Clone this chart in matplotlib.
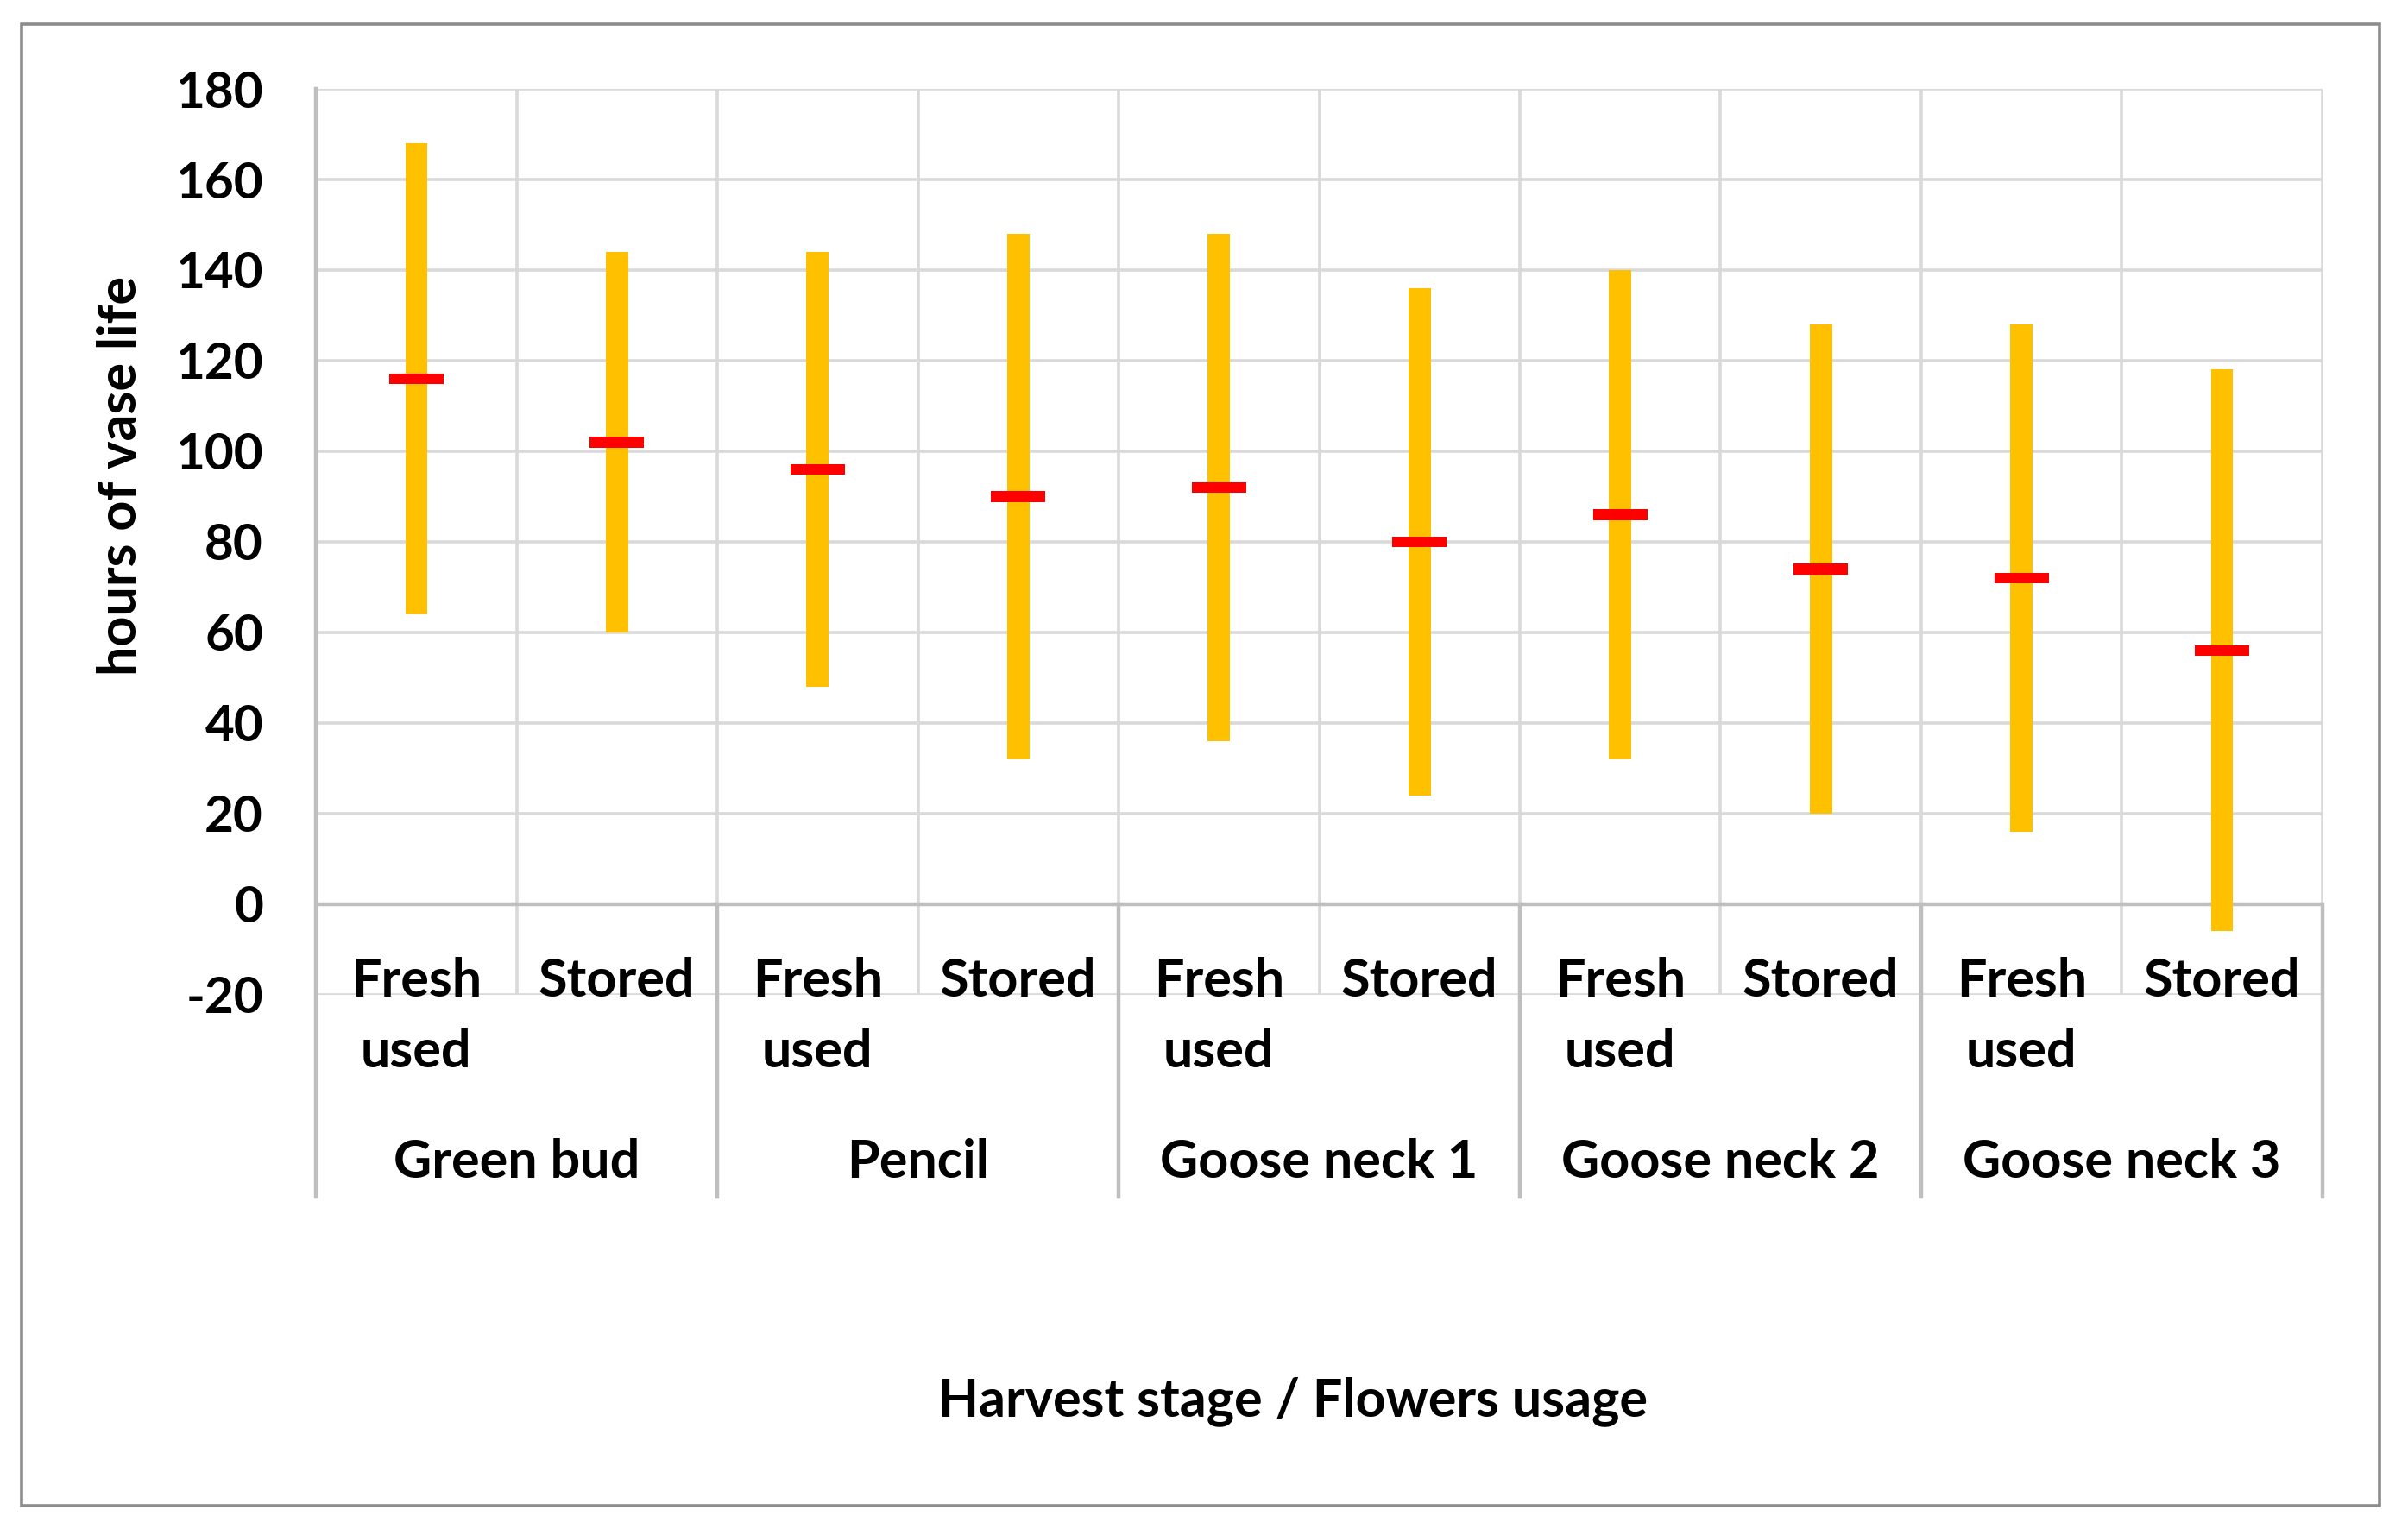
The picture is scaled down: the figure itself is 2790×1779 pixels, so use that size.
import matplotlib
matplotlib.use('Agg')
import matplotlib.pyplot as plt
from matplotlib.patches import Rectangle
import matplotlib.transforms as mtransforms

groups = ["Green bud", "Pencil", "Goose neck 1", "Goose neck 2", "Goose neck 3"]
usages = ["Fresh used", "Stored"]
high = [168, 144, 144, 148, 148, 136, 140, 128, 128, 118]
low = [64, 60, 48, 32, 36, 24, 32, 20, 16, -6]
mean = [116, 102, 96, 90, 92, 80, 86, 74, 72, 56]
yticks = list(range(-20, 181, 20))

plt.rcParams['font.family'] = ['Lato', 'DejaVu Sans']
plt.rcParams['font.weight'] = 'bold'
plt.rcParams['axes.unicode_minus'] = False

fig = plt.figure(figsize=(13.95, 8.895), dpi=200)
ax = fig.add_axes([0.1312, 0.3519, 0.8333, 0.5902])

n = len(high)
x = [i + 0.5 for i in range(n)]
ax.set_xlim(0, n)
ax.set_ylim(-20, 180)

grid_c = '#D9D9D9'
axis_c = '#BFBFBF'

# horizontal gridlines
for t in yticks:
    ax.axhline(t, color=grid_c, lw=1.3, zorder=1)
# vertical gridlines
for i in range(1, n + 1):
    ax.axvline(i, color=grid_c, lw=1.3, zorder=1)
ax.axhline(0, color=axis_c, lw=1.6, zorder=2)

# high-low bars
ax.bar(x, [h - l for h, l in zip(high, low)], bottom=low, width=0.11,
       color='#FFC000', zorder=3)
# mean dashes
ax.bar(x, 2.3, bottom=[m - 1.15 for m in mean], width=0.27,
       color='#FF0000', zorder=4)

for s in ax.spines.values():
    s.set_visible(False)

ax.set_yticks(yticks)
ax.set_xticks([])
ax.tick_params(axis='y', length=0, pad=22, labelsize=21)

trans = mtransforms.blended_transform_factory(ax.transData, ax.transAxes)
sep_bottom = -0.2229
# left axis line
ax.plot([0, 0], [1.0, sep_bottom], transform=trans, clip_on=False, color=axis_c, lw=1.6, zorder=2)
# group separators below the axis
for g in range(1, len(groups) + 1):
    ax.plot([2 * g, 2 * g], [0.1, sep_bottom], transform=trans, clip_on=False,
            color=axis_c, lw=1.6, zorder=2)

# category labels
for i, xc in enumerate(x):
    lab = usages[i % 2]
    if lab == "Fresh used":
        ax.text(xc, -0.002, "Fresh", transform=trans, ha='center', va='baseline', fontsize=22)
        ax.text(xc, -0.080, "used", transform=trans, ha='center', va='baseline', fontsize=22)
    else:
        ax.text(xc, -0.002, lab, transform=trans, ha='center', va='baseline', fontsize=22)
for g, name in enumerate(groups):
    ax.text(2 * g + 1, -0.202, name, transform=trans, ha='center', va='baseline', fontsize=22)

fig.text(0.05, 0.69, 'hours of vase life', rotation=90, ha='center', va='center', fontsize=22)
fig.text(0.537, 0.0873, 'Harvest stage / Flowers usage', ha='center', va='center', fontsize=22)

fig.patches.append(Rectangle((0.00896, 0.0191), 0.9792, 0.9652, transform=fig.transFigure,
                             fill=False, edgecolor='#8C8C8C', lw=1.3))

fig.savefig('out.png', dpi=200)
